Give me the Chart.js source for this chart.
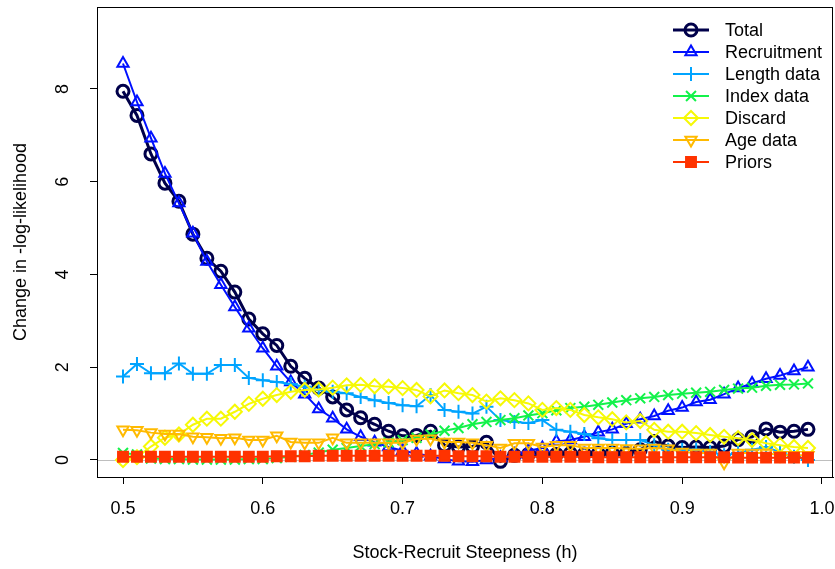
<!DOCTYPE html>
<html><head><meta charset="utf-8">
<script src="https://cdn.jsdelivr.net/npm/chart.js@4.4.1/dist/chart.umd.min.js"></script>
<style>html,body{margin:0;padding:0;background:#fff;}canvas{display:block;}</style>
</head><body>
<canvas id="c" width="835" height="569"></canvas>
<script>
const steepness = [0.50,0.51,0.52,0.53,0.54,0.55,0.56,0.57,0.58,0.59,0.60,0.61,0.62,0.63,0.64,0.65,0.66,0.67,0.68,0.69,0.70,0.71,0.72,0.73,0.74,0.75,0.76,0.77,0.78,0.79,0.80,0.81,0.82,0.83,0.84,0.85,0.86,0.87,0.88,0.89,0.90,0.91,0.92,0.93,0.94,0.95,0.96,0.97,0.98,0.99];
const total = [7.95,7.43,6.60,5.97,5.58,4.87,4.35,4.07,3.62,3.04,2.72,2.47,2.02,1.76,1.55,1.36,1.08,0.91,0.77,0.62,0.52,0.53,0.62,0.32,0.28,0.29,0.38,-0.03,0.10,0.12,0.14,0.12,0.14,0.13,0.14,0.15,0.14,0.22,0.40,0.30,0.27,0.28,0.27,0.30,0.44,0.50,0.67,0.60,0.62,0.66];
const recruitment = [8.55,7.72,6.94,6.18,5.54,4.89,4.28,3.78,3.30,2.84,2.41,2.02,1.68,1.42,1.10,0.90,0.66,0.50,0.38,0.28,0.20,0.14,0.08,0.02,-0.03,-0.04,0.00,0.05,0.12,0.20,0.26,0.40,0.43,0.50,0.60,0.66,0.78,0.88,0.95,1.06,1.13,1.25,1.30,1.42,1.55,1.65,1.75,1.82,1.92,2.00];
const lengthData = [1.80,2.07,1.87,1.87,2.08,1.86,1.86,2.05,2.05,1.77,1.72,1.68,1.64,1.58,1.51,1.47,1.44,1.36,1.29,1.23,1.18,1.16,1.40,1.08,1.04,1.00,1.15,0.86,0.82,0.80,0.86,0.65,0.61,0.56,0.47,0.43,0.43,0.43,0.32,0.22,0.22,0.22,0.17,0.10,0.15,0.22,0.28,0.17,0.07,0.00];
const indexData = [0.15,0.12,0.03,0.02,0.02,0.01,0.01,0.01,0.01,0.02,0.02,0.04,0.07,0.11,0.16,0.22,0.26,0.30,0.34,0.38,0.43,0.48,0.55,0.63,0.69,0.77,0.82,0.86,0.90,0.96,1.01,1.07,1.12,1.15,1.19,1.24,1.29,1.33,1.36,1.40,1.43,1.45,1.47,1.51,1.54,1.56,1.60,1.62,1.63,1.65];
const discard = [0.00,0.06,0.29,0.48,0.55,0.76,0.89,0.89,1.04,1.21,1.32,1.40,1.47,1.51,1.52,1.56,1.61,1.62,1.59,1.58,1.55,1.51,1.37,1.50,1.44,1.40,1.26,1.33,1.29,1.22,1.08,1.12,1.08,0.97,0.92,0.88,0.81,0.84,0.65,0.61,0.61,0.58,0.54,0.50,0.47,0.43,0.36,0.32,0.28,0.26];
const ageData = [0.65,0.64,0.59,0.56,0.56,0.50,0.49,0.47,0.48,0.43,0.43,0.52,0.39,0.37,0.37,0.48,0.37,0.37,0.37,0.37,0.37,0.45,0.46,0.39,0.39,0.37,0.32,0.26,0.36,0.36,0.28,0.32,0.32,0.26,0.26,0.26,0.25,0.24,0.26,0.24,0.17,0.15,0.15,-0.06,0.15,0.15,0.15,0.10,0.10,0.10];
const priors = [0.07,0.07,0.07,0.07,0.07,0.07,0.07,0.07,0.07,0.07,0.07,0.08,0.08,0.08,0.09,0.09,0.09,0.09,0.09,0.09,0.09,0.09,0.09,0.09,0.08,0.08,0.08,0.07,0.07,0.07,0.07,0.07,0.07,0.07,0.06,0.06,0.06,0.06,0.06,0.06,0.06,0.06,0.06,0.06,0.05,0.05,0.05,0.05,0.05,0.05];
const seriesNames = ["Total","Recruitment","Length data","Index data","Discard","Age data","Priors"];
const xTicks = [0.5,0.6,0.7,0.8,0.9,1.0];
const yTicks = [0,2,4,6,8];
const xTitle = "Stock-Recruit Steepness (h)";
const yTitle = "Change in -log-likelihood";

const FONT = "'Liberation Sans', Arial, sans-serif";
const seriesValues = [total, recruitment, lengthData, indexData, discard, ageData, priors];
const colors = ["#00004A","#0010FF","#00A4FF","#13F24A","#F6F906","#FFBA00","#FF3300"];
const styles = [
  {ps:'circle', r:6, rot:0, lw:3, bg:'rgba(0,0,0,0)'},
  {ps:'triangle', r:6.5, rot:0, lw:2, bg:'rgba(0,0,0,0)'},
  {ps:'cross', r:7, rot:0, lw:2, bg:'rgba(0,0,0,0)'},
  {ps:'crossRot', r:7, rot:0, lw:2, bg:'rgba(0,0,0,0)'},
  {ps:'rectRot', r:7, rot:0, lw:2, bg:'rgba(0,0,0,0)'},
  {ps:'triangle', r:6.5, rot:180, lw:2, bg:'rgba(0,0,0,0)'},
  {ps:'rect', r:7, rot:0, lw:2, bg:null}
];

const datasets = seriesNames.map((name,i)=>({
  label: name,
  data: steepness.map((x,j)=>({x:x, y:seriesValues[i][j]})),
  borderColor: colors[i],
  backgroundColor: colors[i],
  borderWidth: styles[i].lw,
  pointStyle: styles[i].ps,
  pointRadius: styles[i].r,
  pointRotation: styles[i].rot,
  pointBorderWidth: styles[i].lw,
  pointBorderColor: colors[i],
  pointBackgroundColor: styles[i].bg || colors[i],
  tension: 0,
  fill: false,
  order: seriesNames.length - i
}));

function noPad(s){ s.paddingTop = 0; s.paddingBottom = 0; s.paddingLeft = 0; s.paddingRight = 0; }

const frame = {
  id:'frame',
  beforeDatasetsDraw(chart){
    const {ctx, chartArea:a, scales} = chart;
    const y0 = Math.round(scales.y.getPixelForValue(0)) + 0.5;
    ctx.save();
    ctx.strokeStyle = '#BEBEBE'; ctx.lineWidth = 1;
    ctx.beginPath(); ctx.moveTo(a.left, y0); ctx.lineTo(a.right, y0); ctx.stroke();
    ctx.restore();
  },
  afterDraw(chart){
    const {ctx, chartArea:a} = chart;
    ctx.save();
    ctx.strokeStyle = '#000'; ctx.lineWidth = 1;
    ctx.strokeRect(Math.round(a.left)+0.5, Math.round(a.top)+0.5, Math.round(a.right-a.left)-1, Math.round(a.bottom-a.top));
    const lx0 = 673, lx1 = 709, mx = 691, tx = 725, ly = 30, dy = 22;
    chart.data.datasets.forEach((ds,i)=>{
      const y = ly + i*dy;
      ctx.strokeStyle = ds.borderColor; ctx.lineWidth = ds.borderWidth;
      ctx.beginPath(); ctx.moveTo(lx0,y); ctx.lineTo(lx1,y); ctx.stroke();
      ctx.fillStyle = ds.pointBackgroundColor;
      ctx.lineWidth = ds.pointBorderWidth;
      Chart.helpers.drawPoint(ctx, {pointStyle: ds.pointStyle, radius: ds.pointRadius, rotation: ds.pointRotation, borderWidth: ds.pointBorderWidth}, mx, y);
      ctx.fillStyle = '#000'; ctx.font = '18px ' + FONT; ctx.textAlign='left'; ctx.textBaseline='middle';
      ctx.fillText(ds.label, tx, y+1);
    });
    ctx.restore();
  }
};

new Chart(document.getElementById('c'), {
  type:'line',
  data:{datasets},
  plugins:[frame],
  options:{
    responsive:false, animation:false, devicePixelRatio:1,
    layout:{autoPadding:false, padding:{left:0, top:7, right:2, bottom:0}},
    plugins:{legend:{display:false}, tooltip:{enabled:false}},
    scales:{
      x:{
        type:'linear', min:0.4814, max:1.0079,
        afterBuildTicks(s){ s.ticks = xTicks.map(v=>({value:v})); },
        afterFit(s){ s.height = 92; noPad(s); },
        ticks:{ font:{family:FONT, size:18}, color:'#000', padding:14, maxRotation:0, minRotation:0,
          callback:(v)=>Number(v).toFixed(1) },
        grid:{ drawOnChartArea:false, drawTicks:true, tickLength:7, color:'#000', lineWidth:1 },
        border:{ display:true, color:'#000', width:1 },
        title:{ display:true, text:xTitle, font:{family:FONT, size:18}, color:'#000', padding:{top:0,bottom:5} }
      },
      y:{
        type:'linear', min:-0.367, max:9.768,
        afterBuildTicks(s){ s.ticks = yTicks.map(v=>({value:v})); },
        afterFit(s){ s.width = 97; noPad(s); },
        ticks:{ font:{family:FONT, size:18}, color:'#000', padding:22, minRotation:90, maxRotation:90, crossAlign:'center',
          callback:(v)=>String(v) },
        grid:{ drawOnChartArea:false, drawTicks:true, tickLength:7, color:'#000', lineWidth:1 },
        border:{ display:true, color:'#000', width:1 },
        title:{ display:true, text:yTitle, font:{family:FONT, size:18}, color:'#000', padding:{top:10,bottom:0} }
      }
    }
  }
});
</script>
</body></html>
